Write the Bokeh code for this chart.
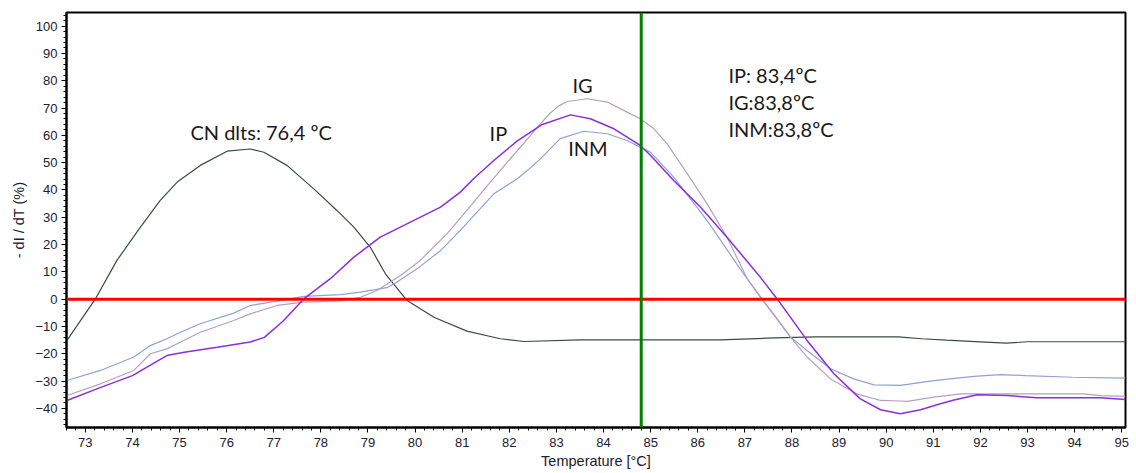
from bokeh.plotting import figure
from bokeh.models import Range1d, Span, SingleIntervalTicker, ColumnDataSource
from bokeh.core.properties import value
from bokeh.embed import file_html
from bokeh.resources import INLINE

# Melting curves: temperature (°C) vs -dI/dT (%)
cn_t = [72.61, 73.21, 73.67, 74.17, 74.59, 74.95, 75.44, 76.01, 76.5, 76.79, 77.28, 77.85,
        78.34, 78.7, 79.05, 79.37, 79.83, 80.4, 81.1, 81.81, 82.31, 83.5, 86.48, 87.44,
        88.5, 90.26, 90.75, 91.28, 92.1, 92.55, 93.0, 95.08]
cn_y = [-15.1, 0.0, 14.2, 26.4, 36.2, 42.9, 49.0, 54.2, 55.0, 53.8, 49.0, 40.4,
        32.5, 26.4, 19.0, 9.3, -0.5, -6.6, -11.7, -14.5, -15.5, -14.9, -14.9, -14.3,
        -13.8, -13.8, -14.5, -15.0, -15.7, -16.1, -15.6, -15.6]

ip_t = [72.61, 73.3, 74.0, 74.5, 74.75, 75.1, 75.8, 76.5, 76.8, 77.2, 77.63, 78.2, 78.7,
        79.26, 79.9, 80.54, 80.96, 81.24, 81.67, 82.17, 82.7, 83.3, 83.72, 84.22, 84.78,
        85.0, 85.49, 86.06, 86.62, 87.33, 87.69, 88.32, 88.89, 89.45, 89.88, 90.3, 90.73,
        91.15, 91.44, 91.93, 92.57, 93.2, 94.55, 95.08]
ip_y = [-37.1, -32.5, -28.0, -23.0, -20.5, -19.4, -17.6, -15.7, -14.0, -8.0, 0.0, 7.5, 15.4,
        22.7, 28.2, 33.7, 39.2, 44.1, 50.8, 58.0, 64.0, 67.5, 66.1, 62.4, 56.3,
        52.6, 43.5, 33.7, 22.7, 8.0, 0.0, -15.1, -27.3, -36.5, -40.5, -42.0, -40.5,
        -38.3, -36.9, -35.0, -35.3, -36.1, -36.1, -36.7]

ig_t = [72.61, 73.32, 74.03, 74.38, 74.73, 75.16, 75.44, 76.15, 76.5, 77.07, 77.64, 78.41,
        78.84, 79.19, 79.69, 80.11, 80.68, 81.1, 81.53, 81.95, 82.2, 82.45, 82.66, 82.87,
        83.05, 83.23, 83.65, 84.08, 84.5, 84.78, 85.07, 85.35, 85.78, 86.2, 86.62, 87.05,
        87.37, 87.61, 87.97, 88.32, 88.82, 89.38, 89.88, 90.3, 90.45, 91.01, 91.58, 92.43,
        94.2, 94.55, 95.08]
ig_y = [-35.3, -31.0, -26.1, -20.0, -18.2, -14.5, -12.1, -7.8, -5.4, -2.3, -1.1, -0.6,
        0.7, 3.2, 8.7, 14.2, 24.0, 32.5, 41.5, 50.0, 55.0, 60.0, 64.2, 68.2,
        70.8, 72.4, 73.4, 72.2, 68.5, 66.1, 62.4, 56.9, 45.9, 34.9, 22.7, 7.5,
        0.0, -5.4, -13.9, -21.2, -29.2, -34.7, -37.1, -37.3, -37.4, -35.9, -34.7, -34.7,
        -34.7, -35.3, -35.6]

inm_t = [72.61, 73.32, 74.03, 74.38, 74.73, 75.02, 75.44, 76.15, 76.5, 77.07, 77.64, 78.41,
         78.84, 79.4, 79.55, 80.04, 80.54, 80.96, 81.67, 82.17, 82.38, 82.66, 83.08, 83.58,
         84.08, 84.5, 84.78, 85.0, 85.49, 86.2, 86.9, 87.33, 87.97, 88.32, 88.82, 89.31,
         89.74, 90.3, 91.01, 91.86, 92.43, 92.96, 93.95, 95.08]
inm_y = [-29.8, -26.1, -21.2, -17.0, -14.5, -12.1, -9.0, -5.1, -2.3, -0.7, 1.0, 1.7,
         2.6, 4.2, 5.6, 11.1, 17.8, 25.2, 38.6, 44.1, 47.1, 51.4, 58.8, 61.5,
         60.6, 58.1, 55.7, 53.8, 44.7, 28.8, 11.1, 0.7, -13.9, -18.8, -25.5, -29.2,
         -31.4, -31.6, -29.8, -28.3, -27.6, -28.0, -28.6, -28.9]

# Text annotations (temperature, value, text)
label_t = [75.23, 81.58, 83.34, 83.25, 86.65, 86.65, 86.65]
label_y = [61.4, 61.0, 78.3, 55.2, 82.0, 72.1, 62.2]
label_text = ["CN dlts: 76,4 ºC", "IP", "IG", "INM",
              "IP: 83,4ºC", "IG:83,8ºC", "INM:83,8ºC"]

marker_temp = 84.8
baseline_value = 0

p = figure(width=1136, height=473, output_backend="svg", toolbar_location=None,
           x_range=Range1d(72.6, 95.08), y_range=Range1d(-47, 105),
           min_border_left=66, min_border_right=11, min_border_top=12, min_border_bottom=46)
p.background_fill_color = "white"
p.border_fill_color = "white"
p.outline_line_color = "black"
p.outline_line_width = 2
p.xgrid.visible = False
p.ygrid.visible = False

p.line(cn_t, cn_y, line_color="#34503c", line_width=1.2)
p.line(inm_t, inm_y, line_color="#8ea2d4", line_width=1.2)
p.line(ig_t, ig_y, line_color="#b79fba", line_width=1.2)
p.line(ip_t, ip_y, line_color="#8a2fdc", line_width=1.5)

p.add_layout(Span(location=baseline_value, dimension="width", line_color="#ff0000", line_width=3))
p.add_layout(Span(location=marker_temp, dimension="height", line_color="#008000", line_width=3))

src = ColumnDataSource(dict(x=label_t, y=label_y, t=label_text))
p.text(x="x", y="y", text="t", source=src, text_font=value("Lato"), text_font_size="20px",
       text_color="#1a1a1a", text_align="left", text_baseline="middle")

for ax in (p.xaxis[0], p.yaxis[0]):
    ax.axis_line_color = "black"
    ax.axis_line_width = 2
    ax.major_tick_in = 0
    ax.major_tick_out = 5
    ax.minor_tick_in = 0
    ax.minor_tick_out = 3
    ax.major_tick_line_color = "black"
    ax.minor_tick_line_color = "black"
    ax.major_label_text_font = "Liberation Sans"
    ax.major_label_text_font_size = "13px"
    ax.major_label_text_color = "#1c2030"
    ax.axis_label_text_font = "Liberation Sans"
    ax.axis_label_text_font_size = "14.5px"
    ax.axis_label_text_font_style = "normal"
    ax.axis_label_text_color = "#1c2030"

p.xaxis.ticker = SingleIntervalTicker(interval=1, num_minor_ticks=5)
p.yaxis.ticker = SingleIntervalTicker(interval=10, num_minor_ticks=5)
p.xaxis.axis_label = "Temperature [°C]"
p.yaxis.axis_label = "- dI / dT (%)"
p.xaxis.major_label_standoff = 5
p.xaxis.axis_label_standoff = 3
p.yaxis.major_label_standoff = 4
p.yaxis.axis_label_standoff = 5

open("out.html", "w").write(file_html(p, INLINE))
